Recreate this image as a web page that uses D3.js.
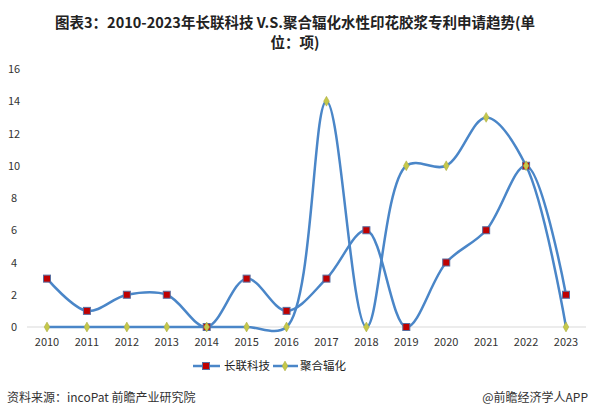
<!DOCTYPE html>
<html><head><meta charset="utf-8">
<script src="https://cdn.jsdelivr.net/npm/d3@7"></script>
<style>body{margin:0;background:#fff}svg{font-family:"Noto Sans CJK SC",sans-serif}</style>
</head><body>
<script>
var years = [2010,2011,2012,2013,2014,2015,2016,2017,2018,2019,2020,2021,2022,2023],
	changlian = [3,1,2,2,0,3,1,3,6,0,4,6,10,2],
	juhe = [0,0,0,0,0,0,0,14,0,10,10,13,10,0],
	yTicks = [0,2,4,6,8,10,12,14,16];

var w = 590, h = 417;
var svg = d3.select('body').append('svg').attr('width', w).attr('height', h);

svg.append('text').attr('x', w/2).attr('y', 28).attr('text-anchor','middle')
	.style('font-size','14.5px').style('font-weight','bold').attr('fill','#222')
	.text('图表3：2010-2023年长联科技 V.S.聚合辐化水性印花胶浆专利申请趋势(单');
svg.append('text').attr('x', w/2).attr('y', 48).attr('text-anchor','middle')
	.style('font-size','14.5px').style('font-weight','bold').attr('fill','#222')
	.text('位：项)');

var x = d3.scalePoint().domain(years).range([47, 566]);
var y = d3.scaleLinear().domain([0,16]).range([327, 69]);

svg.append('line').attr('x1',27).attr('x2',586).attr('y1',y(0)).attr('y2',y(0))
	.attr('stroke','#d9d9d9');

svg.selectAll('.yl').data(yTicks).enter().append('text')
	.attr('x', 14).attr('y', function(d){return y(d)+4}).attr('text-anchor','middle')
	.style('font-size','11px').attr('fill','#333').text(function(d){return d});
svg.selectAll('.xl').data(years).enter().append('text')
	.attr('x', function(d){return x(d)}).attr('y', 346).attr('text-anchor','middle')
	.style('font-size','11px').attr('fill','#333').text(function(d){return d});

var color = '#4a86c8';
function line(vals) {
	return d3.line().curve(d3.curveCatmullRom.alpha(0.5))
		.x(function(d,i){return x(years[i])}).y(function(d){return y(d)})(vals);
}
svg.append('path').attr('d', line(juhe)).attr('fill','none').attr('stroke', color).attr('stroke-width', 2.5);
svg.append('path').attr('d', line(changlian)).attr('fill','none').attr('stroke', color).attr('stroke-width', 2.5);

function diamond(g, cx, cy) {
	g.append('path').attr('d', d3.symbol(d3.symbolDiamond, 28)())
		.attr('transform','translate('+cx+','+cy+')').attr('fill','#c5c84a').attr('stroke','#a8a840').attr('stroke-width',0.5);
}
function square(g, cx, cy) {
	g.append('rect').attr('x', cx-3.5).attr('y', cy-3.5).attr('width',7).attr('height',7)
		.attr('fill','#c00000').attr('stroke','#5a6fa0').attr('stroke-width',1);
}
changlian.forEach(function(v,i){ square(svg, x(years[i]), y(v)) });
juhe.forEach(function(v,i){ diamond(svg, x(years[i]), y(v)) });

// legend
svg.append('line').attr('x1',193).attr('x2',220).attr('y1',366).attr('y2',366).attr('stroke',color).attr('stroke-width',2.5);
square(svg, 206, 366);
svg.append('text').attr('x',224).attr('y',370).style('font-size','11.5px').attr('fill','#222').text('长联科技');
svg.append('line').attr('x1',273).attr('x2',298).attr('y1',366).attr('y2',366).attr('stroke',color).attr('stroke-width',2.5);
diamond(svg, 285, 366);
svg.append('text').attr('x',300).attr('y',370).style('font-size','11.5px').attr('fill','#222').text('聚合辐化');

svg.append('text').attr('x',7).attr('y',402).style('font-size','12px').attr('fill','#333').text('资料来源：incoPat 前瞻产业研究院');
svg.append('text').attr('x',588).attr('y',402).attr('text-anchor','end').style('font-size','12px').attr('fill','#333').text('@前瞻经济学人APP');
</script>
</body></html>
